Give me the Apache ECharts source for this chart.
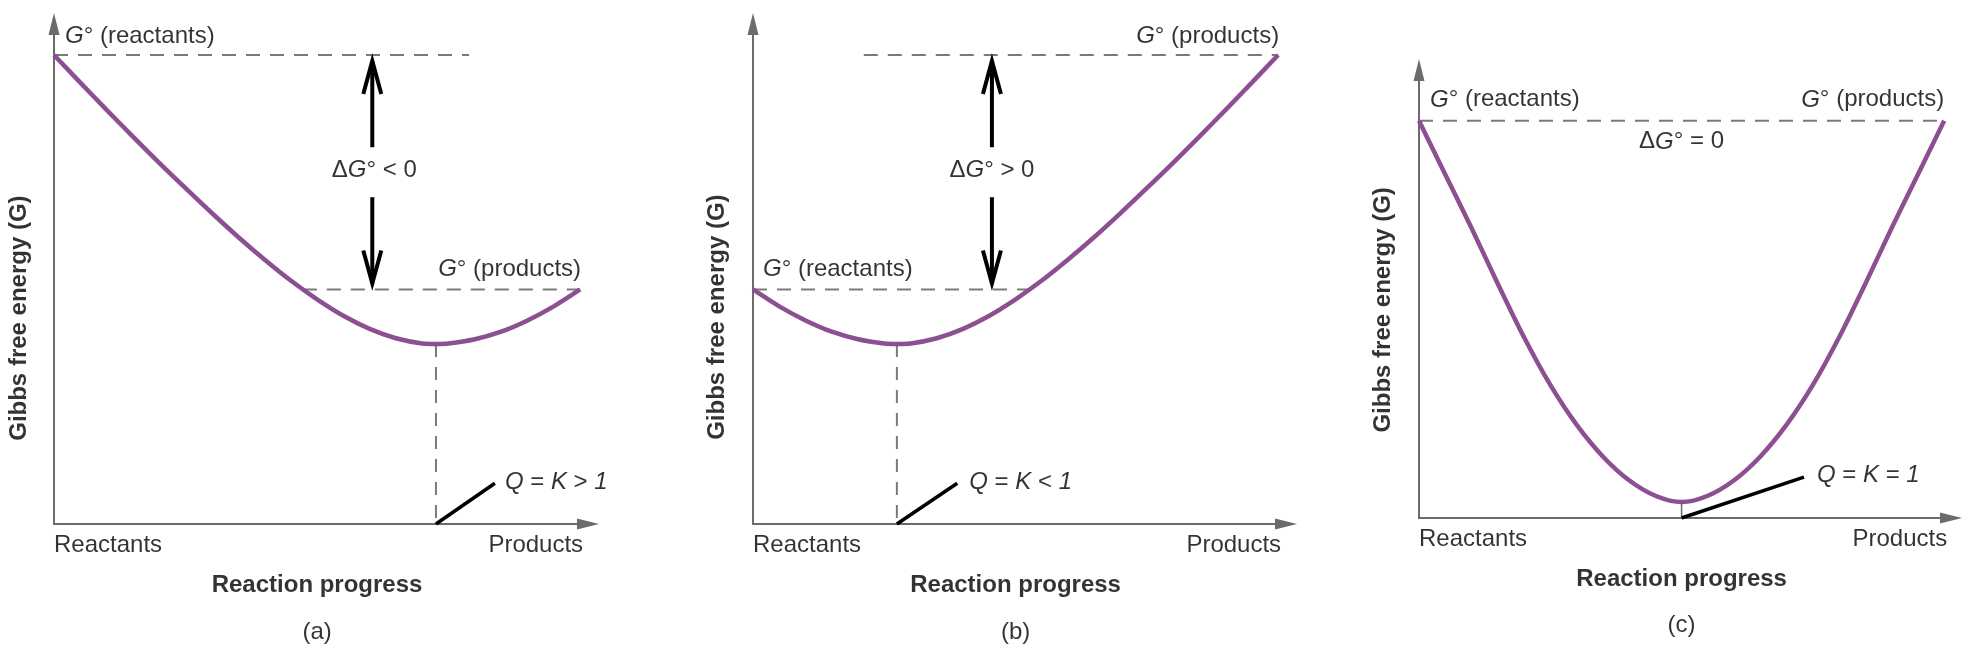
<!DOCTYPE html>
<html><head><meta charset="utf-8">
<script src="https://cdn.jsdelivr.net/npm/echarts@6/dist/echarts.min.js"></script>
<style>html,body{margin:0;padding:0;background:#fff}#c{width:1978px;height:664px}</style>
</head><body><div id="c"></div>
<script>
// x: 0 = Reactants, 100 = Products ; y: Gibbs free energy (arbitrary units)
const curveA = [[0,100],[5,94.1],[10,88.3],[15,82.6],[20,77.0],[25,71.6],[30,66.3],[35,61.2],[40,56.4],[45,51.9],[50,47.9],[55,44.4],[60,41.6],[65,39.6],[70,38.5],[72.6,38.4],[75,38.5],[80,39.4],[85,41.0],[90,43.4],[95,46.4],[100,50]];
const curveB = [[0,50],[5,46.4],[10,43.4],[15,41.0],[20,39.4],[25,38.5],[27.4,38.4],[30,38.5],[35,39.6],[40,41.6],[45,44.4],[50,47.9],[55,51.9],[60,56.4],[65,61.2],[70,66.3],[75,71.6],[80,77.0],[85,82.6],[90,88.3],[95,94.1],[100,100]];
const curveC = [[0,100],[5,86.5],[10,73],[15,59],[20,45.5],[25,33.5],[30,23.5],[35,15.5],[40,9.5],[45,5.6],[50,4],[55,5.6],[60,9.5],[65,15.5],[70,23.5],[75,33.5],[80,45.5],[85,59],[90,73],[95,86.5],[100,100]];

// dashed G° level lines: [[x1,y],[x2,y]]
const levelsA = [[[0,100],[78.9,100]], [[47.3,50],[100,50]]];
const levelsB = [[[21.1,100],[100,100]], [[0,50],[52.7,50]]];
const levelsC = [[[0,100],[100,100]]];

// equilibrium (minimum) points [x, G]
const eqA = [72.6, 38.4];
const eqB = [27.4, 38.4];
const eqC = [50, 4];

// leader line end for the Q = K label
const leaderA = [83.8, 8.7];
const leaderB = [38.9, 8.7];
const leaderC = [73.3, 10.3];

// ΔG° double arrows: [x, lower G°, upper G°]
const dgArrowA = [60.5, 50, 100];
const dgArrowB = [45.5, 50, 100];

// texts
const axisEndLabels = ['Reactants', 'Products'];
const xTitle = 'Reaction progress';
const yTitle = 'Gibbs free energy (G)';
const panelLetters = ['(a)', '(b)', '(c)'];
const reactLabel = '{i|G}° (reactants)';
const prodLabel = '{i|G}° (products)';
const dgLabels = ['ΔG° < 0', 'ΔG° > 0', 'ΔG° = 0'];
const qLabels = ['{i|Q} = {i|K} > {i|1}', '{i|Q} = {i|K} < {i|1}', '{i|Q} = {i|K} = {i|1}'];

const FONT = 'Liberation Sans';
const TXT = '#000000';
const AXC = '#6b6b6b';
const DASHC = '#7a7a7a';
const PURPLE = '#8b4f92';

function dgRich(s) { return s.replace('G°', '{i|G}°'); }

const richStyle = { i: { fontStyle: 'italic', fontFamily: FONT, fontSize: 24, color: TXT } };

function lbl(value, text, align, offset, extra) {
  return {
    value: value,
    label: Object.assign({
      show: true, position: 'inside', formatter: text, align: align, verticalAlign: 'middle',
      offset: offset, fontFamily: FONT, fontSize: 24, color: TXT, rich: richStyle
    }, extra || {})
  };
}

const grids = [
  { left: 54, top: 24, width: 534, height: 500 },
  { left: 753, top: 24, width: 533, height: 500 },
  { left: 1419, top: 70, width: 532, height: 448 }
];
const xMax = [101.5, 101.5, 101.3];
const yMax = [106.6, 106.6, 112.8];

const xAxes = grids.map((g, i) => ({
  type: 'value', gridIndex: i, min: 0, max: xMax[i],
  axisLine: { show: true, onZero: false, symbol: ['none', 'triangle'], symbolSize: [11, 22], lineStyle: { color: AXC, width: 2 } },
  axisTick: { show: false }, axisLabel: { show: false }, splitLine: { show: false }
}));
const yAxes = grids.map((g, i) => ({
  type: 'value', gridIndex: i, min: 0, max: yMax[i],
  axisLine: { show: true, onZero: false, symbol: ['none', 'triangle'], symbolSize: [11, 22], lineStyle: { color: AXC, width: 2 } },
  axisTick: { show: false }, axisLabel: { show: false }, splitLine: { show: false }
}));

const series = [];
function lineS(i, data, style, z) {
  series.push({ type: 'line', xAxisIndex: i, yAxisIndex: i, data: data, showSymbol: false, symbol: 'none',
    lineStyle: style, silent: true, z: z || 2, animation: false });
}

const panels = [
  { curve: curveA, levels: levelsA, eq: eqA, leader: leaderA, arrow: dgArrowA },
  { curve: curveB, levels: levelsB, eq: eqB, leader: leaderB, arrow: dgArrowB },
  { curve: curveC, levels: levelsC, eq: eqC, leader: leaderC, arrow: null }
];

panels.forEach((p, i) => {
  p.levels.forEach(l => lineS(i, l, { color: DASHC, width: 2, type: [14, 10] }, 2));
  if (i < 2) {
    lineS(i, [[p.eq[0], p.eq[1]], [p.eq[0], 0]], { color: DASHC, width: 2, type: [13, 10] }, 2);
  } else {
    lineS(i, [[p.eq[0], p.eq[1]], [p.eq[0], 0]], { color: AXC, width: 1.5 }, 2);
  }
  lineS(i, [[p.eq[0], 0], p.leader], { color: '#000', width: 3.5, cap: 'butt' }, 4);
  series.push({ type: 'line', xAxisIndex: i, yAxisIndex: i, data: p.curve, smooth: 0.3,
    showSymbol: false, symbol: 'none', lineStyle: { color: PURPLE, width: 4.5 }, silent: true, z: 5, animation: false });
  if (p.arrow) {
    series.push({
      type: 'custom', xAxisIndex: i, yAxisIndex: i, data: [p.arrow], silent: true, z: 6, animation: false,
      encode: { x: 0, y: [1, 2] },
      renderItem: function (params, api) {
        const x = api.value(0);
        const top = api.coord([x, api.value(2)]);
        const bot = api.coord([x, api.value(1)]);
        const mid = (top[1] + bot[1]) / 2;
        const gap = 25, hw = 9, hh = 33, tipIn = 6;
        const st = { stroke: '#000', lineWidth: 4, fill: null, lineJoin: 'miter', lineCap: 'butt' };
        const tY = top[1] + tipIn, bY = bot[1] - tipIn, cx = top[0];
        return { type: 'group', children: [
          { type: 'line', shape: { x1: cx, y1: tY, x2: cx, y2: mid - gap }, style: st },
          { type: 'polyline', shape: { points: [[cx - hw, tY + hh], [cx, tY], [cx + hw, tY + hh]] }, style: st },
          { type: 'line', shape: { x1: cx, y1: mid + gap, x2: cx, y2: bY }, style: st },
          { type: 'polyline', shape: { points: [[cx - hw, bY - hh], [cx, bY], [cx + hw, bY - hh]] }, style: st }
        ] };
      }
    });
  }
});

// text annotations
const textData = [
  [
    lbl([0, 100], reactLabel, 'left', [11, -19]),
    lbl([100, 50], prodLabel, 'right', [1, -20]),
    lbl([dgArrowA[0], (dgArrowA[1] + dgArrowA[2]) / 2], dgRich(dgLabels[0]), 'center', [2, -2]),
    lbl(leaderA, qLabels[0], 'left', [10, -1]),
    lbl([0, 0], axisEndLabels[0], 'left', [0, 21]),
    lbl([100, 0], axisEndLabels[1], 'right', [3, 21]),
    lbl([50, 0], xTitle, 'center', [0, 61], { fontWeight: 'bold' }),
    lbl([50, 0], panelLetters[0], 'center', [0, 108]),
    lbl([-6.65, 43.9], yTitle, 'center', [0, 0], { fontWeight: 'bold', rotate: 90 })
  ],
  [
    lbl([100, 100], prodLabel, 'right', [1, -19]),
    lbl([0, 50], reactLabel, 'left', [10, -20]),
    lbl([dgArrowB[0], (dgArrowB[1] + dgArrowB[2]) / 2], dgRich(dgLabels[1]), 'center', [0, -2]),
    lbl(leaderB, qLabels[1], 'left', [12, -1]),
    lbl([0, 0], axisEndLabels[0], 'left', [0, 21]),
    lbl([100, 0], axisEndLabels[1], 'right', [3, 21]),
    lbl([50, 0], xTitle, 'center', [0, 61], { fontWeight: 'bold' }),
    lbl([50, 0], panelLetters[1], 'center', [0, 108]),
    lbl([-6.86, 44.1], yTitle, 'center', [0, 0], { fontWeight: 'bold', rotate: 90 })
  ],
  [
    lbl([0, 100], reactLabel, 'left', [11, -21]),
    lbl([100, 100], prodLabel, 'right', [0, -21]),
    lbl([50, 100], dgRich(dgLabels[2]), 'center', [0, 21]),
    lbl(leaderC, qLabels[2], 'left', [13, -2]),
    lbl([0, 0], axisEndLabels[0], 'left', [0, 21]),
    lbl([100, 0], axisEndLabels[1], 'right', [3, 21]),
    lbl([50, 0], xTitle, 'center', [0, 61], { fontWeight: 'bold' }),
    lbl([50, 0], panelLetters[2], 'center', [0, 107]),
    lbl([-6.86, 52.4], yTitle, 'center', [0, 0], { fontWeight: 'bold', rotate: 90 })
  ]
];
textData.forEach((d, i) => {
  series.push({ type: 'scatter', xAxisIndex: i, yAxisIndex: i, data: d, symbolSize: 1, clip: false,
    itemStyle: { color: 'rgba(0,0,0,0)' }, silent: true, z: 10, animation: false, emphasis: { disabled: true } });
});

const chart = echarts.init(document.getElementById('c'), null, { renderer: 'canvas' });
chart.setOption({
  animation: false,
  backgroundColor: '#ffffff',
  grid: grids,
  xAxis: xAxes,
  yAxis: yAxes,
  series: series
});
</script></body></html>
